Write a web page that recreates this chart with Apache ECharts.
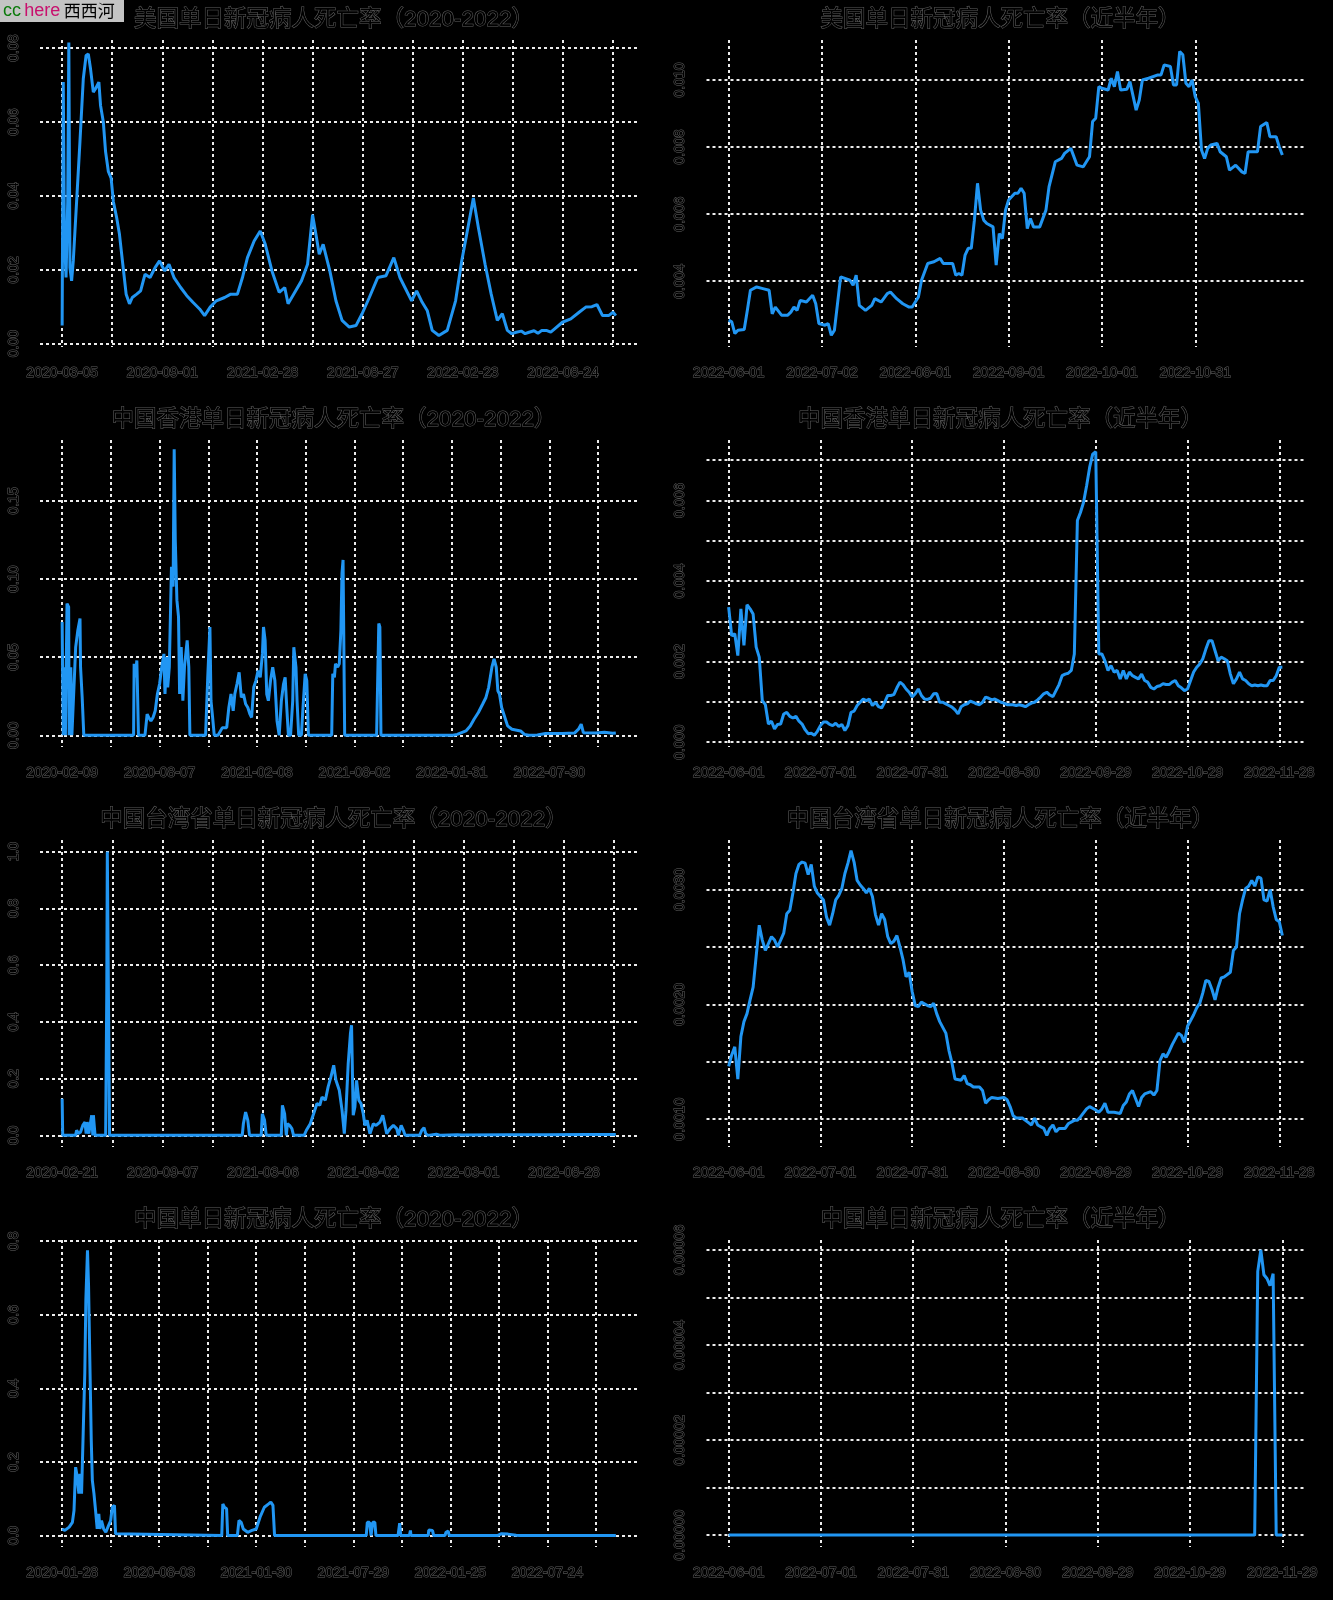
<!DOCTYPE html>
<html><head><meta charset="utf-8">
<script src="https://cdn.jsdelivr.net/npm/echarts@6/dist/echarts.min.js"></script>
<style>html,body{margin:0;padding:0;background:#000;}#c{width:1333px;height:1600px;}</style>
</head><body><div id="c"></div>
<script>
// ---------- titles ----------
const titles = [
  '美国单日新冠病人死亡率（2020-2022）', '美国单日新冠病人死亡率（近半年）',
  '中国香港单日新冠病人死亡率（2020-2022）', '中国香港单日新冠病人死亡率（近半年）',
  '中国台湾省单日新冠病人死亡率（2020-2022）', '中国台湾省单日新冠病人死亡率（近半年）',
  '中国单日新冠病人死亡率（2020-2022）', '中国单日新冠病人死亡率（近半年）'
];

// ---------- x tick labels (dates at observation index) ----------
const usAllDates = ['2020-03-05','2020-09-01','2021-02-28','2021-08-27','2022-02-23','2022-08-24'];
const hkAllDates = ['2020-02-09','2020-08-07','2021-02-03','2021-08-02','2022-01-31','2022-07-30'];
const twAllDates = ['2020-02-21','2020-09-07','2021-03-06','2021-09-02','2022-03-01','2022-08-28'];
const cnAllDates = ['2020-01-28','2020-08-03','2021-01-30','2021-07-29','2022-01-25','2022-07-24'];
const usHalfDates = ['2022-06-01','2022-07-02','2022-08-01','2022-09-01','2022-10-01','2022-10-31'];
const hkHalfDates = ['2022-06-01','2022-07-01','2022-07-31','2022-08-30','2022-09-29','2022-10-29','2022-11-28'];
const twHalfDates = ['2022-06-01','2022-07-01','2022-07-31','2022-08-30','2022-09-29','2022-10-29','2022-11-28'];
const cnHalfDates = ['2022-06-01','2022-07-01','2022-07-31','2022-08-30','2022-09-29','2022-10-29','2022-11-29'];

// ---------- y ticks (grid lines) and labelled ticks ----------
const usAllYGrid = [0, 0.02, 0.04, 0.06, 0.08];           const usAllYLab = [0, 0.02, 0.04, 0.06, 0.08];
const usHalfYGrid = [0.004, 0.006, 0.008, 0.010];        const usHalfYLab = [0.004, 0.006, 0.008, 0.010];
const hkAllYGrid = [0, 0.05, 0.10, 0.15];                const hkAllYLab = [0, 0.05, 0.10, 0.15];
const hkHalfYGrid = [0, 0.001, 0.002, 0.003, 0.004, 0.005, 0.006, 0.007]; const hkHalfYLab = [0, 0.002, 0.004, 0.006];
const twAllYGrid = [0, 0.2, 0.4, 0.6, 0.8, 1.0];         const twAllYLab = [0, 0.2, 0.4, 0.6, 0.8, 1.0];
const twHalfYGrid = [0.001, 0.0015, 0.002, 0.0025, 0.003]; const twHalfYLab = [0.001, 0.002, 0.003];
const cnAllYGrid = [0, 0.2, 0.4, 0.6, 0.8];              const cnAllYLab = [0, 0.2, 0.4, 0.6, 0.8];
const cnHalfYGrid = [0, 0.00001, 0.00002, 0.00003, 0.00004, 0.00005, 0.00006]; const cnHalfYLab = [0, 0.00002, 0.00004, 0.00006];

// ---------- series: [observation index, death rate] ----------
const usAll = [[0,0.0049],[2,0.0708],[4,0.0296],[7,0.0179],[10,0.0385],[12,0.0815],[14,0.0206],[17,0.0170],[20,0.0224],[26,0.0385],[32,0.0547],[38,0.0717],[43,0.0780],[47,0.0784],[51,0.0744],[56,0.0681],[60,0.0690],[66,0.0708],[69,0.0645],[74,0.0600],[78,0.0520],[83,0.0466],[88,0.0448],[92,0.0385],[98,0.0341],[103,0.0296],[109,0.0215],[115,0.0134],[121,0.0108],[126,0.0125],[134,0.0134],[141,0.0143],[149,0.0188],[158,0.0179],[167,0.0206],[175,0.0224],[184,0.0197],[192,0.0215],[201,0.0179],[213,0.0152],[224,0.0130],[235,0.0112],[247,0.0094],[256,0.0076],[266,0.0099],[277,0.0116],[292,0.0125],[303,0.0134],[315,0.0134],[324,0.0179],[333,0.0233],[345,0.0278],[356,0.0305],[365,0.0269],[377,0.0197],[390,0.0139],[400,0.0152],[406,0.0108],[416,0.0134],[430,0.0170],[441,0.0215],[450,0.0349],[456,0.0296],[462,0.0242],[469,0.0269],[481,0.0197],[492,0.0116],[503,0.0063],[516,0.0045],[528,0.0049],[539,0.0081],[552,0.0125],[567,0.0179],[582,0.0184],[596,0.0233],[607,0.0179],[616,0.0152],[628,0.0116],[637,0.0143],[647,0.0112],[656,0.0090],[665,0.0036],[677,0.0022],[692,0.0036],[707,0.0116],[718,0.0224],[727,0.0296],[739,0.0394],[748,0.0314],[760,0.0215],[771,0.0134],[782,0.0063],[791,0.0081],[800,0.0036],[808,0.0027],[816,0.0031],[825,0.0034],[832,0.0027],[839,0.0031],[848,0.0035],[855,0.0028],[862,0.0036],[870,0.0036],[878,0.0031],[885,0.0040],[899,0.0058],[914,0.0067],[929,0.0085],[941,0.0099],[952,0.0100],[961,0.0106],[971,0.0076],[982,0.0076],[990,0.0085],[995,0.0076]];

const usHalf = [[0,0.00284],[1,0.00279],[2,0.00244],[3,0.00254],[5,0.00256],[6,0.00313],[7,0.00373],[9,0.00383],[11,0.00378],[13,0.00373],[14,0.00303],[15,0.00323],[17,0.00299],[19,0.00299],[20,0.00308],[21,0.00323],[22,0.00313],[23,0.00343],[25,0.00338],[27,0.00358],[28,0.00333],[29,0.00274],[31,0.00269],[32,0.00274],[33,0.00239],[34,0.00254],[36,0.00413],[39,0.00403],[40,0.00388],[41,0.00418],[42,0.00328],[44,0.00313],[46,0.00328],[47,0.00348],[49,0.00338],[51,0.00363],[52,0.00368],[54,0.00348],[56,0.00333],[58,0.00323],[59,0.00323],[61,0.00353],[62,0.00403],[64,0.00453],[66,0.00458],[68,0.00468],[69,0.00453],[72,0.00453],[73,0.00418],[74,0.00423],[75,0.00418],[76,0.00478],[77,0.00498],[78,0.00498],[79,0.00582],[80,0.00692],[81,0.00612],[82,0.00582],[83,0.00572],[85,0.00562],[86,0.00448],[87,0.00542],[88,0.00527],[89,0.00612],[90,0.00642],[92,0.00662],[93,0.00662],[94,0.00677],[95,0.00662],[96,0.00557],[97,0.00587],[98,0.00562],[100,0.00562],[102,0.00612],[103,0.00682],[105,0.00756],[107,0.00766],[108,0.00781],[110,0.00796],[112,0.00746],[114,0.00741],[116,0.00771],[117,0.00876],[118,0.00886],[119,0.00980],[120,0.00975],[122,0.00970],[123,0.01005],[124,0.00980],[125,0.01025],[126,0.00970],[128,0.00972],[129,0.00995],[131,0.00910],[132,0.00940],[133,0.01000],[135,0.01005],[138,0.01015],[139,0.01015],[140,0.01045],[142,0.01040],[143,0.00985],[144,0.00985],[145,0.01085],[146,0.01075],[147,0.00990],[148,0.00980],[149,0.01000],[150,0.00950],[151,0.00930],[152,0.00791],[153,0.00766],[154,0.00796],[155,0.00806],[157,0.00811],[158,0.00786],[160,0.00771],[161,0.00731],[163,0.00746],[165,0.00726],[166,0.00721],[167,0.00786],[170,0.00786],[171,0.00861],[173,0.00873],[174,0.00831],[176,0.00831],[177,0.00801],[178,0.00776]];

const hkAll = [[0,0.0725],[1,0.035],[2,0],[4,0.0436],[6,0],[9,0.0843],[12,0.0822],[13,0],[16,0.0436],[18,0],[21,0],[25,0.0564],[29,0.0672],[33,0.0747],[34,0.0436],[37,0.0242],[40,0],[132,0],[133,0.0457],[135,0.0371],[138,0.0479],[141,0],[153,0],[157,0.0135],[160,0.0114],[164,0.0092],[168,0.0114],[172,0.0157],[176,0.0264],[180,0.0328],[184,0.0436],[188,0.0521],[190,0.0264],[193,0.0500],[195,0.0307],[198,0.0436],[202,0.1079],[205,0.0951],[207,0.1830],[209,0.1251],[212,0.0865],[215,0.0758],[217,0.0264],[220,0.0564],[223,0.0221],[226,0.0436],[231,0.0607],[234,0.0436],[236,0],[265,0],[269,0.0371],[273,0.0693],[275,0.0221],[278,0.0114],[281,0],[288,0],[296,0.0049],[304,0.0049],[308,0.0178],[312,0.0264],[316,0.0157],[319,0.0264],[323,0.0328],[327,0.0403],[331,0.0242],[335,0.0264],[339,0.0200],[343,0.0178],[347,0.0135],[350,0.0114],[354,0.0307],[358,0.0350],[362,0.0414],[366,0.0371],[370,0.0521],[372,0.0693],[375,0.0607],[378,0.0264],[381,0.0221],[385,0.0350],[389,0.0436],[393,0.0350],[397,0.0092],[401,0],[405,0.0221],[409,0.0328],[412,0.0371],[415,0.0178],[418,0],[422,0],[426,0.0221],[428,0.0564],[432,0.0436],[434,0.0221],[437,0],[442,0],[445,0.0178],[449,0.0393],[452,0.0350],[455,0],[498,0],[500,0.0393],[503,0.0371],[505,0.0457],[509,0.0436],[512,0.0457],[515,0.0672],[517,0.1036],[519,0.1122],[522,0],[581,0],[585,0.0715],[587,0.0693],[589,0],[722,0],[730,0.0006],[738,0.0017],[746,0.0028],[754,0.0060],[761,0.0103],[769,0.0146],[777,0.0200],[783,0.0242],[788,0.0307],[794,0.0436],[798,0.0489],[802,0.0436],[805,0.0285],[808,0.0264],[812,0.0178],[816,0.0135],[823,0.0060],[831,0.0039],[847,0.0028],[854,0.0006],[862,0],[878,0.0002],[893,0.0011],[924,0.0011],[947,0.0015],[954,0.0039],[959,0.0071],[963,0.0017],[986,0.0015],[1002,0.0019],[1017,0.0013],[1023,0.0015]];

// daily values, 2022-06-01 onward
const hkHalf = [
0.00335,0.00264,0.00269,0.00215,0.00331,0.00240,0.00341,0.00331,0.00318,0.00236,
0.00211,0.00103,0.00093,0.00045,0.00052,0.00033,0.00044,0.00045,0.00070,0.00074,
0.00064,0.00060,0.00064,0.00052,0.00045,0.00031,0.00021,0.00022,0.00017,0.00027,
0.00041,0.00050,0.00050,0.00044,0.00041,0.00047,0.00039,0.00044,0.00029,0.00041,
0.00074,0.00077,0.00091,0.00099,0.00107,0.00103,0.00107,0.00091,0.00099,0.00088,
0.00085,0.00099,0.00116,0.00116,0.00118,0.00135,0.00149,0.00143,0.00132,0.00124,
0.00112,0.00120,0.00132,0.00116,0.00107,0.00106,0.00109,0.00120,0.00121,0.00099,
0.00099,0.00095,0.00091,0.00087,0.00080,0.00070,0.00088,0.00093,0.00095,0.00102,
0.00099,0.00095,0.00093,0.00099,0.00112,0.00109,0.00105,0.00107,0.00103,0.00099,
0.00097,0.00093,0.00093,0.00093,0.00091,0.00093,0.00091,0.00088,0.00093,0.00097,
0.00099,0.00105,0.00112,0.00120,0.00124,0.00117,0.00113,0.00128,0.00143,0.00165,
0.00169,0.00171,0.00178,0.00219,0.00550,0.00570,0.00595,0.00636,0.00682,0.00715,
0.00721,0.00219,0.00219,0.00202,0.00178,0.00190,0.00174,0.00178,0.00157,0.00178,
0.00157,0.00174,0.00165,0.00161,0.00157,0.00169,0.00153,0.00149,0.00136,0.00132,
0.00138,0.00140,0.00145,0.00143,0.00143,0.00149,0.00153,0.00140,0.00135,0.00128,
0.00132,0.00153,0.00174,0.00186,0.00194,0.00207,0.00231,0.00252,0.00252,0.00227,
0.00202,0.00211,0.00207,0.00202,0.00169,0.00145,0.00157,0.00174,0.00157,0.00153,
0.00145,0.00140,0.00142,0.00140,0.00142,0.00140,0.00140,0.00153,0.00153,0.00165,
0.00186,0.00186];

const twAll = [[0,0.129],[1,0],[24,0],[26,0.018],[29,0.006],[33,0.012],[37,0.035],[41,0.047],[43,0.006],[45,0.047],[48,0.006],[50,0.035],[53,0.071],[55,0],[56,0.071],[59,0],[78,0],[80,0.5],[81,1.0],[84,1.0],[85,0],[323,0],[325,0.041],[329,0.082],[333,0.053],[336,0],[357,0],[359,0.076],[363,0.053],[366,0],[393,0],[395,0.106],[399,0.076],[402,0],[404,0.041],[408,0.035],[412,0.024],[415,0],[434,0],[438,0.018],[445,0.041],[451,0.076],[457,0.112],[462,0.106],[466,0.135],[472,0.124],[477,0.171],[482,0.206],[487,0.247],[491,0.194],[497,0.159],[502,0.088],[506,0.006],[509,0.088],[513,0.253],[517,0.359],[519,0.388],[522,0.071],[525,0.1],[528,0.194],[532,0.124],[536,0.112],[540,0.076],[543,0.035],[547,0.053],[552,0.006],[558,0.041],[563,0.035],[570,0.047],[575,0.071],[579,0.035],[582,0.006],[588,0.024],[594,0.035],[600,0.024],[603,0],[608,0.035],[612,0.018],[615,0],[641,0],[645,0.018],[649,0.027],[652,0.006],[656,0],[671,0.004],[679,0],[709,0.002],[716,0.001],[799,0.002],[867,0.002],[942,0.003],[993,0.003]];

const twHalf = [[0,0.00146],[1,0.00156],[2,0.00163],[3,0.00135],[4,0.00172],[5,0.00185],[6,0.00192],[7,0.00204],[8,0.00215],[9,0.00242],[10,0.00269],[11,0.00256],[12,0.00247],[13,0.00253],[14,0.00259],[15,0.00256],[16,0.00250],[17,0.00256],[18,0.00262],[19,0.00279],[20,0.00282],[21,0.00297],[22,0.00314],[23,0.00322],[24,0.00324],[25,0.00323],[26,0.00313],[27,0.00322],[28,0.00303],[29,0.00297],[31,0.00291],[32,0.00276],[33,0.00269],[34,0.00279],[35,0.00291],[36,0.00295],[37,0.00301],[38,0.00314],[39,0.00323],[40,0.00334],[41,0.00324],[42,0.00308],[43,0.00304],[44,0.00301],[45,0.00297],[46,0.00301],[47,0.00294],[48,0.00278],[49,0.00269],[50,0.00279],[51,0.00274],[52,0.00259],[53,0.00253],[54,0.00255],[55,0.00260],[56,0.00250],[57,0.00239],[58,0.00224],[59,0.00228],[60,0.00211],[61,0.00199],[62,0.00198],[63,0.00202],[65,0.00199],[66,0.00198],[67,0.00201],[68,0.00192],[69,0.00185],[71,0.00175],[72,0.00160],[73,0.00149],[74,0.00135],[76,0.00134],[77,0.00138],[78,0.00131],[79,0.00130],[80,0.00128],[82,0.00128],[83,0.00125],[84,0.00114],[85,0.00117],[86,0.00119],[88,0.00118],[90,0.00119],[91,0.00117],[92,0.00111],[93,0.00103],[94,0.00101],[96,0.00101],[97,0.00099],[98,0.00097],[99,0.00095],[100,0.00101],[101,0.00095],[103,0.00092],[104,0.00086],[105,0.00092],[106,0.00095],[107,0.00089],[108,0.00092],[110,0.00092],[111,0.00096],[113,0.00099],[114,0.00099],[115,0.00102],[117,0.00109],[118,0.00111],[120,0.00108],[121,0.00106],[122,0.00109],[123,0.00114],[124,0.00106],[126,0.00106],[128,0.00105],[129,0.00112],[130,0.00115],[131,0.00122],[132,0.00125],[133,0.00118],[134,0.00111],[135,0.00119],[136,0.00122],[138,0.00124],[139,0.00121],[140,0.00125],[141,0.00151],[142,0.00157],[143,0.00154],[144,0.00159],[145,0.00165],[147,0.00175],[148,0.00173],[149,0.00167],[150,0.00181],[151,0.00186],[152,0.00191],[153,0.00197],[154,0.00201],[155,0.00210],[156,0.00221],[157,0.00220],[158,0.00213],[159,0.00204],[160,0.00215],[161,0.00223],[162,0.00224],[164,0.00228],[165,0.00247],[166,0.00250],[167,0.00279],[168,0.00291],[169,0.00301],[170,0.00303],[171,0.00308],[172,0.00303],[173,0.00311],[174,0.00310],[175,0.00291],[176,0.00290],[177,0.00300],[178,0.00285],[179,0.00274],[180,0.00272],[181,0.00260]];

const cnAll = [[0,0.018],[5,0.014],[13,0.023],[19,0.036],[22,0.068],[25,0.186],[28,0.159],[31,0.114],[33,0.168],[36,0.114],[39,0.277],[42,0.441],[44,0.641],[47,0.775],[49,0.677],[51,0.505],[54,0.259],[56,0.150],[59,0.114],[62,0.068],[65,0.018],[68,0.059],[70,0.018],[73,0.041],[77,0.018],[81,0.009],[86,0.027],[90,0.041],[93,0.077],[97,0.082],[99,0.005],[101,0],[296,0],[298,0.086],[301,0.077],[305,0.073],[307,0],[325,0],[328,0.041],[332,0.036],[336,0.018],[344,0.009],[352,0.014],[360,0.018],[367,0.05],[375,0.077],[383,0.086],[387,0.091],[391,0.082],[394,0],[564,0],[566,0.036],[570,0.036],[573,0],[576,0.036],[580,0.036],[582,0],[623,0],[626,0.034],[628,0],[644,0],[646,0.014],[647,0],[679,0],[680,0.015],[687,0.014],[689,0],[710,0],[712,0.009],[716,0.012],[718,0],[807,0],[815,0.005],[827,0.004],[842,0.001],[850,0],[1027,0]];

const cnHalf = [[0,0],[171,0],[172,0.0000555],[173,0.0000600],[174,0.0000548],[175,0.0000540],[176,0.0000525],[177,0.0000550],[178,0],[180,0]];

// ---------- panel definitions ----------
const panels = [
  {data: usAll,  last: 995,  step: 90, labStep: 180, dates: usAllDates,  yMin: -0.0009,  yMax: 0.0822,   yGrid: usAllYGrid,  yLab: usAllYLab,  dec: 2},
  {data: usHalf, last: 178,  step: 30, labStep: 30,  dates: usHalfDates, yMin: 0.00204,  yMax: 0.01119,  yGrid: usHalfYGrid, yLab: usHalfYLab, dec: 3},
  {data: hkAll,  last: 1023, step: 90, labStep: 180, dates: hkAllDates,  yMin: -0.0075,  yMax: 0.189,    yGrid: hkAllYGrid,  yLab: hkAllYLab,  dec: 2},
  {data: hkHalf.map((v, i) => [i, v]), last: 181, step: 30, labStep: 30, dates: hkHalfDates, yMin: -0.00012, yMax: 0.0075, yGrid: hkHalfYGrid, yLab: hkHalfYLab, dec: 3},
  {data: twAll,  last: 993,  step: 90, labStep: 180, dates: twAllDates,  yMin: -0.041,   yMax: 1.041,    yGrid: twAllYGrid,  yLab: twAllYLab,  dec: 1},
  {data: twHalf, last: 181,  step: 30, labStep: 30,  dates: twHalfDates, yMin: 0.000758, yMax: 0.003432, yGrid: twHalfYGrid, yLab: twHalfYLab, dec: 4},
  {data: cnAll,  last: 1027, step: 90, labStep: 180, dates: cnAllDates,  yMin: -0.031,   yMax: 0.803,    yGrid: cnAllYGrid,  yLab: cnAllYLab,  dec: 1},
  {data: cnHalf, last: 180,  step: 30, labStep: 30,  dates: cnHalfDates, yMin: -0.0000025, yMax: 0.0000621, yGrid: cnHalfYGrid, yLab: cnHalfYLab, dec: 5}
];

const chart = echarts.init(document.getElementById('c'), null, {renderer: 'canvas'});
const LABEL_FONT = 'Liberation Sans, Arial, sans-serif';
const textLook = {color: '#000', textBorderColor: 'rgba(210,210,210,0.45)', textBorderWidth: 1, fontFamily: LABEL_FONT, fontSize: 14};
const gridLine = {show: true, lineStyle: {color: '#ececec', width: 2, type: [3, 3]}};

const grids = [], xAxes = [], yAxes = [], series = [], graphics = [];
panels.forEach((p, i) => {
  const col = i % 2, row = Math.floor(i / 2);
  const x0 = col * 666.5, y0 = row * 400;
  grids.push({left: x0 + 40, top: y0 + 40, width: 598, height: 307, containLabel: false});
  const xGrid = [];
  for (let v = 0; v <= p.last; v += p.step) xGrid.push(v);
  const xLab = p.dates.map((d, k) => k * p.labStep).filter(v => v <= p.last + 0.5);
  xAxes.push({
    type: 'value', gridIndex: i, min: -0.04 * p.last, max: 1.04 * p.last,
    axisLine: {show: false},
    axisTick: {show: false, customValues: xGrid},
    splitLine: gridLine,
    axisLabel: Object.assign({customValues: xLab, margin: 19, hideOverlap: false,
      formatter: v => p.dates[Math.round(v / p.labStep)] || ''}, textLook)
  });
  yAxes.push({
    type: 'value', gridIndex: i, min: p.yMin, max: p.yMax,
    axisLine: {show: false},
    axisTick: {show: false, customValues: p.yGrid},
    splitLine: gridLine,
    axisLabel: Object.assign({customValues: p.yLab, rotate: 90, margin: 19, hideOverlap: false,
      formatter: v => v.toFixed(p.dec)}, textLook)
  });
  series.push({
    type: 'line', xAxisIndex: i, yAxisIndex: i, data: p.data, showSymbol: false,
    lineStyle: {color: '#2196F3', width: 3}, itemStyle: {color: '#2196F3'},
    animation: false, silent: true, z: 3
  });
  graphics.push({
    type: 'text', x: x0 + 334, y: y0 + 20,
    style: {text: titles[i], fill: '#000', stroke: 'rgba(210,210,210,0.45)', lineWidth: 1,
      font: '22.5px "Liberation Sans", "Noto Sans CJK SC", sans-serif', align: 'center', verticalAlign: 'middle'}
  });
});

// watermark box
graphics.push({type: 'rect', x: 0, y: 0, shape: {x: 0, y: 0, width: 124, height: 22}, style: {fill: '#c4c4c4'}, z: 100});
graphics.push({type: 'text', x: 3, y: 11, z: 101, style: {
  text: '{a|cc} {b|here} {c|西西河}', verticalAlign: 'middle',
  rich: {
    a: {fill: '#0b7a0b', font: '18px "Liberation Sans", sans-serif'},
    b: {fill: '#c8106e', font: '18px "Liberation Sans", sans-serif'},
    c: {fill: '#000', font: '17px "Noto Sans CJK SC", sans-serif'}
  }}});

chart.setOption({
  backgroundColor: '#000',
  animation: false,
  grid: grids, xAxis: xAxes, yAxis: yAxes, series: series,
  graphic: graphics
});
</script></body></html>
